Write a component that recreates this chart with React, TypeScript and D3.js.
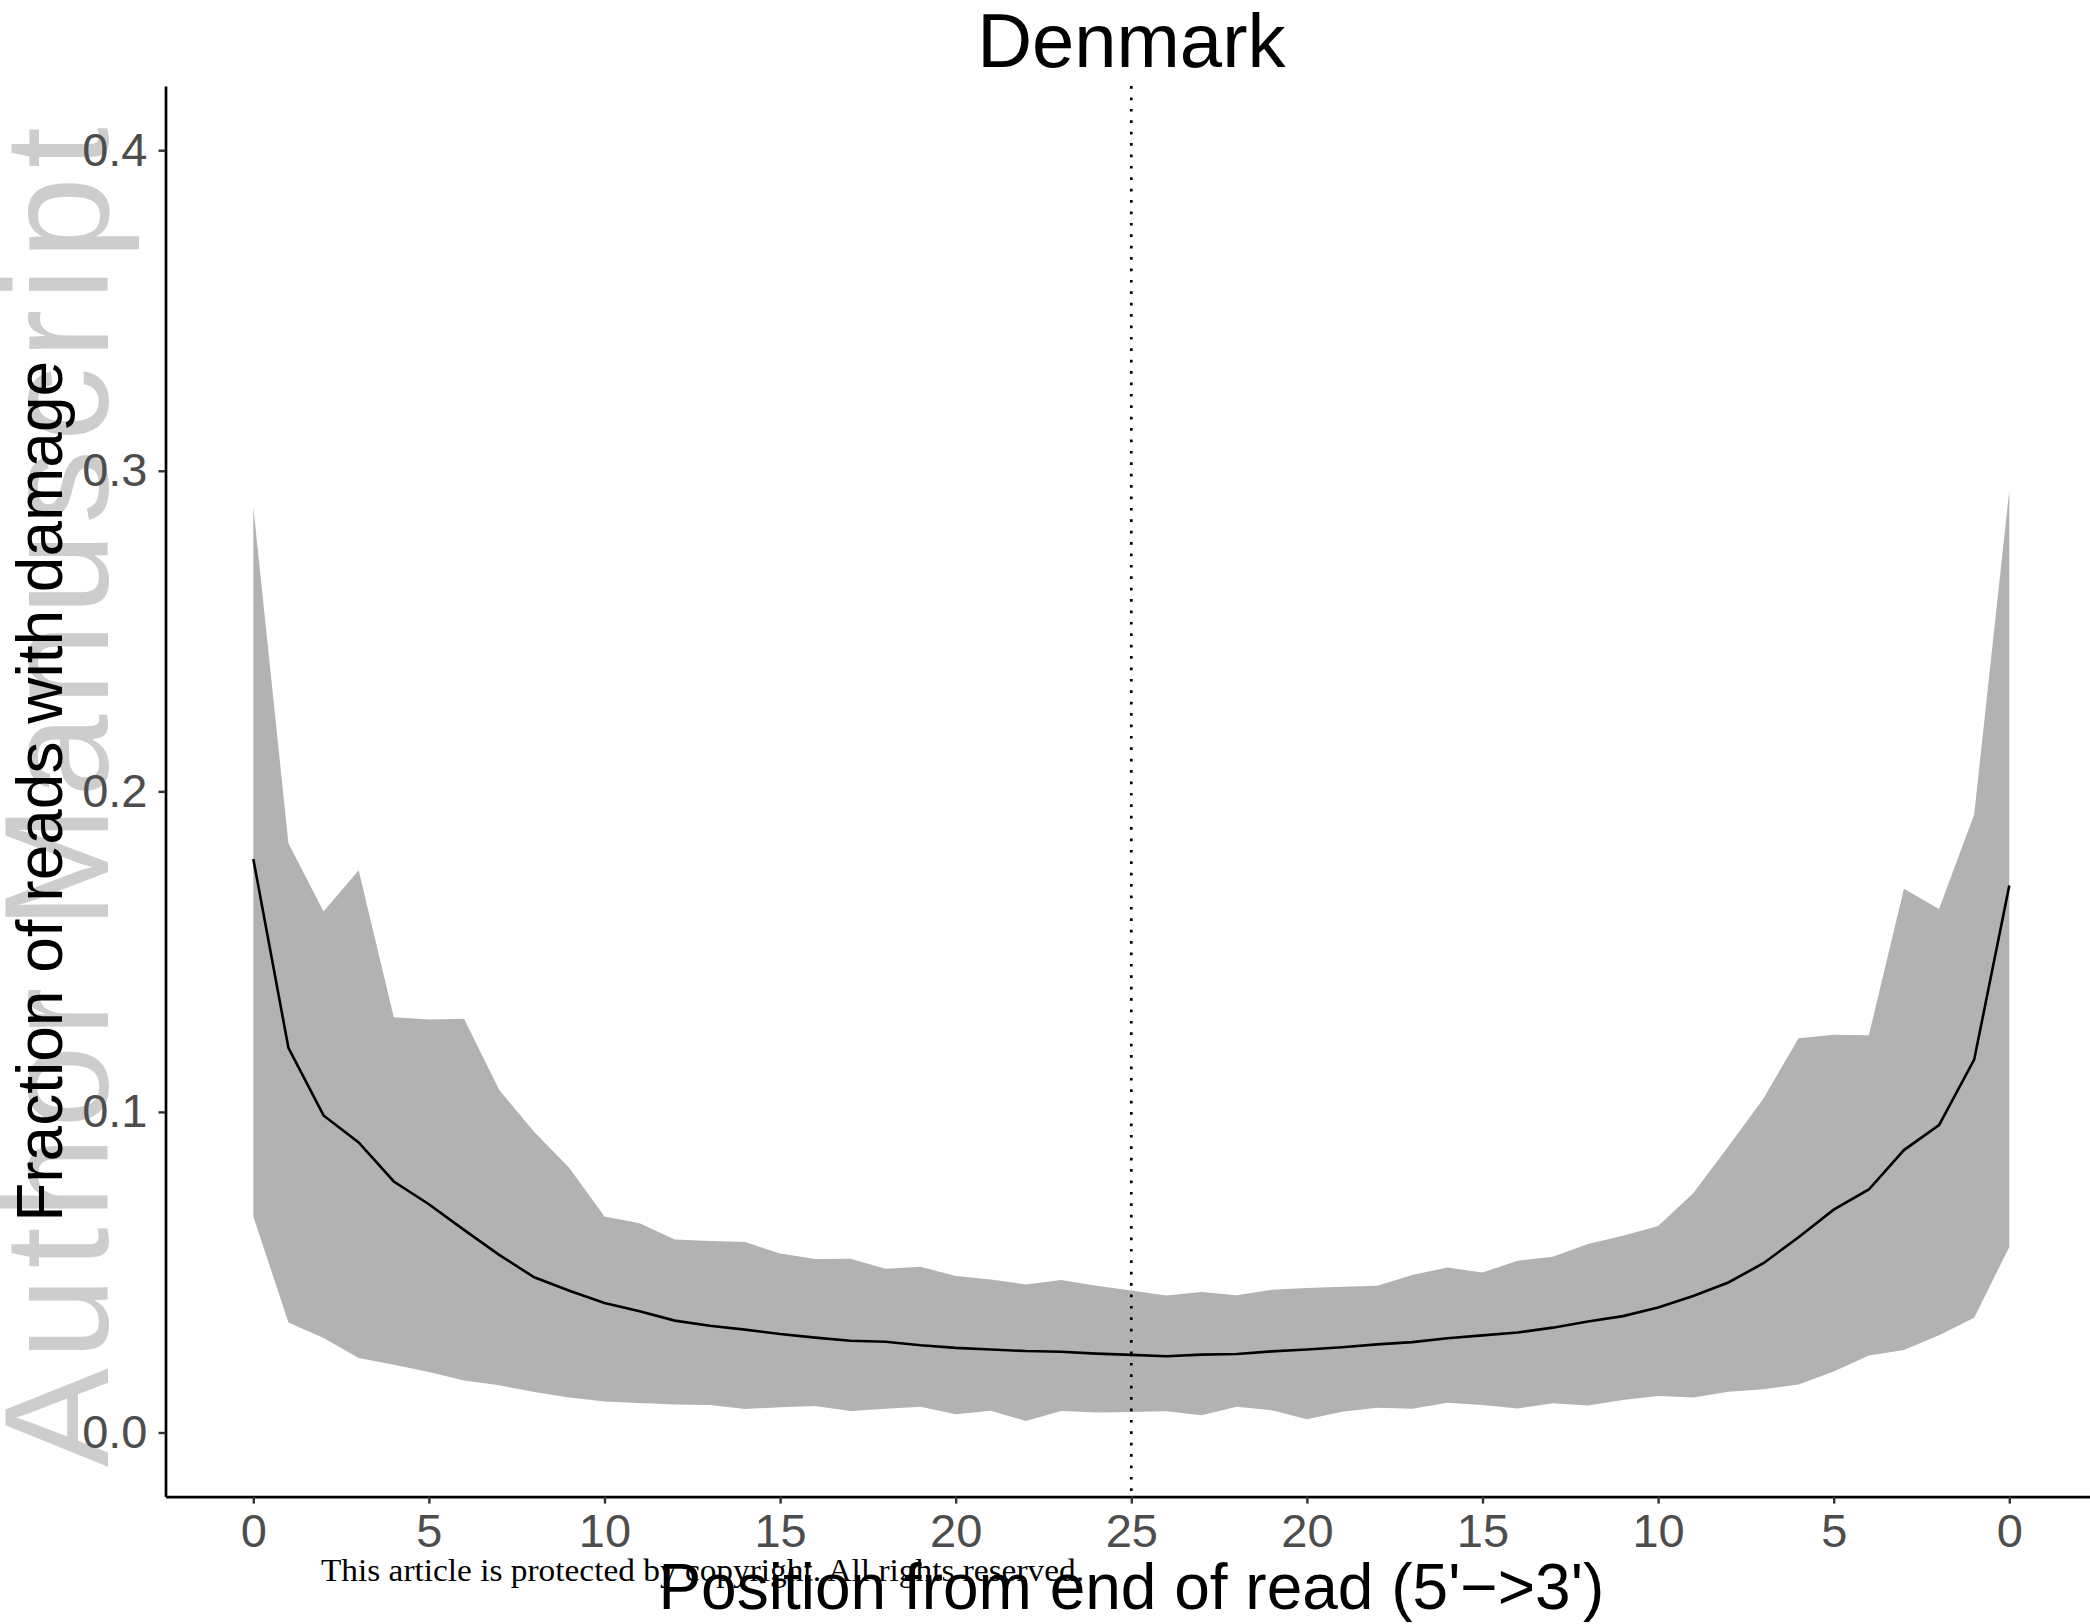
import React, { useEffect, useRef } from 'react';
import * as d3 from 'd3';

// values, position index 0..50 (5' end 0..25, then 3' end 24..0)
const upper = [
  0.2888, 0.1838, 0.1625, 0.1754, 0.1295, 0.1288, 0.1291, 0.1069, 0.0937, 0.0825,
  0.0674, 0.0653, 0.0602, 0.0597, 0.0594, 0.0558, 0.0541, 0.0542, 0.0511, 0.0517,
  0.0488, 0.0477, 0.0462, 0.0476, 0.0458, 0.0443, 0.0427, 0.0438, 0.0428, 0.0445,
  0.0451, 0.0455, 0.0458, 0.0491, 0.0515, 0.0499, 0.0536, 0.0548, 0.0588, 0.0614,
  0.0644, 0.0746, 0.0892, 0.1042, 0.123, 0.1241, 0.1239, 0.1696, 0.1633, 0.1928,
  0.2939,
];
const mean = [
  0.1789, 0.12, 0.0989, 0.0905, 0.0783, 0.0712, 0.0632, 0.0554, 0.0484, 0.0442,
  0.0404, 0.0378, 0.0349, 0.0333, 0.0321, 0.0307, 0.0296, 0.0286, 0.0283, 0.0272,
  0.0264, 0.0259, 0.0254, 0.0252, 0.0246, 0.0242, 0.0238, 0.0243, 0.0245, 0.0253,
  0.0259, 0.0266, 0.0275, 0.0282, 0.0294, 0.0303, 0.0312, 0.0327, 0.0346, 0.0363,
  0.039, 0.0426, 0.0468, 0.0528, 0.0609, 0.0695, 0.0758, 0.0881, 0.0959, 0.1163,
  0.1706,
];
const lower = [
  0.0674, 0.0343, 0.0295, 0.0232, 0.0211, 0.0189, 0.0162, 0.0147, 0.0126, 0.0109,
  0.0097, 0.0092, 0.0087, 0.0086, 0.0073, 0.0079, 0.0083, 0.0067, 0.0074, 0.008,
  0.0057, 0.0068, 0.0036, 0.0067, 0.0062, 0.0064, 0.0066, 0.0054, 0.008, 0.0069,
  0.0041, 0.0065, 0.0077, 0.0074, 0.0093, 0.0086, 0.0075, 0.0091, 0.0084, 0.0101,
  0.0114, 0.0109, 0.0127, 0.0135, 0.015, 0.019, 0.024, 0.0257, 0.0303, 0.0358,
  0.0579,
];

const xTicks = [0, 5, 10, 15, 20, 25, 30, 35, 40, 45, 50];
const xTickLabels = ['0', '5', '10', '15', '20', '25', '20', '15', '10', '5', '0'];
const yTicks = [0, 0.1, 0.2, 0.3, 0.4];
const midPosition = 25;

const FONT = '"Liberation Sans", Arial, Helvetica, sans-serif';

export default function App() {
  const ref = useRef<SVGSVGElement>(null);

  useEffect(() => {
    document.body.style.margin = '0';
    document.body.style.overflow = 'hidden';

    const svg = d3.select(ref.current);
    svg.selectAll('*').remove();

    // panel
    const x = d3.scaleLinear().domain([-2.5, 52.5]).range([165.5, 2097.1]);
    const y = d3.scaleLinear().domain([-0.02, 0.42]).range([1496.6, 86.1]);

    // watermark
    svg
      .append('text')
      .attr('transform', 'translate(108,1467) rotate(-90)')
      .attr('font-family', FONT)
      .attr('font-size', 148)
      .attr('fill', '#cdcdcd')
      .attr('textLength', 1340)
      .attr('lengthAdjust', 'spacing')
      .text('Author Manuscript');

    const area = d3
      .area<number>()
      .x((d, i) => x(i))
      .y0((d, i) => y(lower[i]))
      .y1((d) => y(d));

    svg.append('path').datum(upper).attr('d', area).attr('fill', '#b2b2b2');

    const line = d3
      .line<number>()
      .x((d, i) => x(i))
      .y((d) => y(d));

    svg
      .append('path')
      .datum(mean)
      .attr('d', line)
      .attr('fill', 'none')
      .attr('stroke', '#000')
      .attr('stroke-width', 2.6);

    // dotted divider
    svg
      .append('line')
      .attr('x1', x(midPosition))
      .attr('x2', x(midPosition))
      .attr('y1', y.range()[1])
      .attr('y2', y.range()[0])
      .attr('stroke', '#000')
      .attr('stroke-width', 2.7)
      .attr('stroke-dasharray', '2.7 8.7');

    // axes
    const xAxis = svg
      .append('g')
      .attr('transform', 'translate(0,' + y.range()[0] + ')')
      .call(
        d3
          .axisBottom(x)
          .tickValues(xTicks)
          .tickFormat((d, i) => xTickLabels[i])
          .tickSize(7)
          .tickSizeOuter(0)
          .tickPadding(10),
      );

    const yAxis = svg
      .append('g')
      .attr('transform', 'translate(' + x.range()[0] + ',0)')
      .call(
        d3
          .axisLeft(y)
          .tickValues(yTicks)
          .tickFormat(d3.format('.1f'))
          .tickSize(7)
          .tickSizeOuter(0)
          .tickPadding(11),
      );

    [xAxis, yAxis].forEach((g) => {
      g.attr('font-family', FONT).attr('font-size', 47);
      g.select('.domain').attr('stroke', '#000').attr('stroke-width', 2.7);
      g.selectAll('.tick line').attr('stroke', '#333333').attr('stroke-width', 2.4);
      g.selectAll('.tick text').attr('fill', '#4d4d4d');
    });

    // titles
    svg
      .append('text')
      .attr('x', x(midPosition))
      .attr('y', 67)
      .attr('text-anchor', 'middle')
      .attr('font-family', FONT)
      .attr('font-size', 76)
      .text('Denmark');

    svg
      .append('text')
      .attr('x', x(midPosition))
      .attr('y', 1609)
      .attr('text-anchor', 'middle')
      .attr('font-family', FONT)
      .attr('font-size', 64)
      .text("Position from end of read (5'\u2212>3')");

    svg
      .append('text')
      .attr('transform', 'translate(62,' + (y.range()[0] + y.range()[1]) / 2 + ') rotate(-90)')
      .attr('text-anchor', 'middle')
      .attr('font-family', FONT)
      .attr('font-size', 64)
      .text('Fraction of reads with damage');

    // copyright line
    svg
      .append('text')
      .attr('x', 321)
      .attr('y', 1581)
      .attr('font-family', '"Liberation Serif", "Times New Roman", serif')
      .attr('font-size', 32)
      .attr('textLength', 763)
      .attr('lengthAdjust', 'spacingAndGlyphs')
      .text('This article is protected by copyright. All rights reserved.');
  }, []);

  return <svg ref={ref} width={2090} height={1624} style={{ display: 'block', background: '#fff' }} />;
}
